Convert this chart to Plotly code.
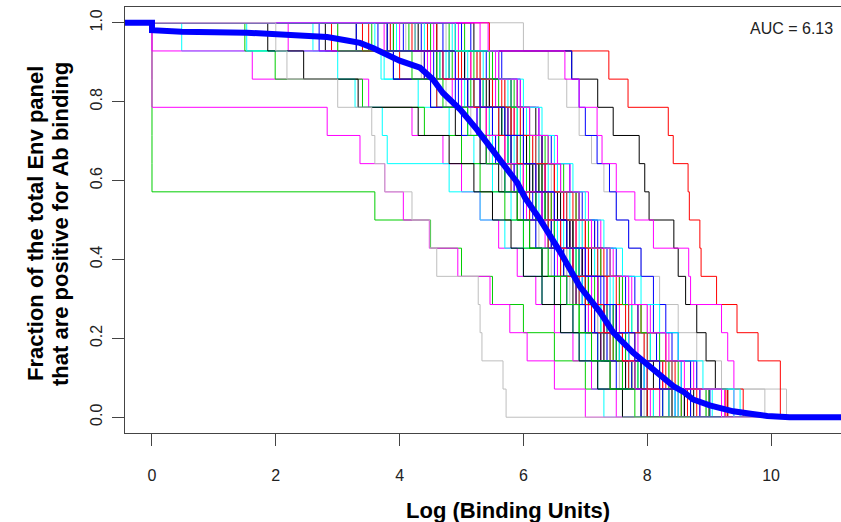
import plotly.graph_objects as go

# ---- data: per-subject binding thresholds (log binding units) for a 14-Env panel ----
N_ENV = 14

black_curves = [
    [5.20, 6.78, 7.20, 7.45, 7.87, 7.96, 8.03, 8.43, 8.50, 8.62, 8.80, 8.95, 9.10, 9.30],
    [3.30, 4.60, 5.10, 5.50, 5.80, 6.00, 6.20, 6.40, 6.60, 6.80, 7.00, 7.30, 7.60, 8.00],
    [2.80, 3.90, 4.50, 4.90, 5.30, 5.60, 5.90, 6.10, 6.30, 6.50, 6.80, 7.10, 7.40, 7.90],
    [4.30, 5.00, 5.40, 5.70, 6.00, 6.30, 6.50, 6.80, 7.00, 7.20, 7.50, 7.70, 8.10, 8.60],
    [3.80, 4.80, 5.20, 5.60, 5.90, 6.10, 6.40, 6.70, 6.90, 7.10, 7.30, 7.60, 7.90, 8.40],
    [1.87, 2.45, 3.33, 4.30, 4.80, 5.20, 5.50, 5.80, 6.00, 6.30, 6.60, 6.90, 7.20, 7.60],
]
red_curves = [
    [5.45, 7.38, 7.69, 8.34, 8.42, 8.66, 8.68, 8.85, 8.87, 9.12, 9.45, 9.79, 10.15, 10.15],
    [3.50, 4.40, 5.00, 5.40, 5.70, 6.00, 6.30, 6.60, 6.90, 7.20, 7.50, 7.80, 8.30, 9.00],
    [4.60, 5.30, 5.70, 6.00, 6.30, 6.50, 6.80, 7.00, 7.30, 7.60, 7.90, 8.30, 8.70, 9.30],
    [2.90, 4.00, 4.60, 5.00, 5.40, 5.80, 6.10, 6.40, 6.60, 6.90, 7.10, 7.40, 7.70, 8.00],
    [4.20, 5.00, 5.50, 5.80, 6.20, 6.50, 6.70, 7.00, 7.20, 7.50, 7.70, 8.00, 8.40, 8.80],
    [3.40, 4.70, 5.20, 5.60, 5.90, 6.20, 6.40, 6.60, 6.80, 7.00, 7.30, 7.60, 8.00, 9.27],
]
green_curves = [
    [0.00, 0.00, 0.00, 0.00, 0.00, 0.00, 3.60, 4.50, 5.00, 5.50, 6.00, 6.50, 7.00, 7.60],
    [1.50, 1.99, 3.40, 4.40, 5.00, 5.30, 5.70, 6.00, 6.30, 6.60, 6.90, 7.20, 7.60, 8.10],
    [4.50, 5.20, 5.60, 5.90, 6.10, 6.30, 6.50, 6.70, 6.90, 7.10, 7.30, 7.60, 7.90, 8.50],
    [3.90, 4.60, 5.00, 5.30, 5.60, 5.90, 6.20, 6.50, 6.80, 7.00, 7.30, 7.50, 7.80, 8.20],
    [4.80, 5.50, 5.80, 6.10, 6.40, 6.60, 6.90, 7.10, 7.40, 7.60, 7.90, 8.20, 8.50, 9.00],
    [3.00, 4.20, 4.70, 5.10, 5.40, 5.70, 5.90, 6.10, 6.40, 6.70, 6.90, 7.10, 7.40, 7.80],
]
blue_curves = [
    [5.00, 6.78, 6.90, 7.00, 7.19, 7.39, 7.50, 7.70, 7.90, 8.10, 8.30, 8.50, 8.80, 9.00],
    [4.06, 4.70, 5.10, 5.50, 5.80, 6.10, 6.30, 6.60, 6.80, 7.10, 7.40, 7.70, 8.00, 8.60],
    [3.30, 4.40, 4.90, 5.30, 5.60, 5.90, 6.20, 6.50, 6.80, 7.00, 7.30, 7.50, 7.90, 9.01],
    [4.70, 5.40, 5.80, 6.00, 6.30, 6.60, 6.90, 7.20, 7.50, 7.80, 8.10, 8.40, 8.70, 9.01],
    [2.70, 3.90, 4.50, 5.00, 5.40, 5.70, 6.00, 6.20, 6.50, 6.70, 7.00, 7.20, 7.50, 7.90],
    [3.80, 4.90, 5.30, 5.70, 6.00, 6.20, 6.50, 6.70, 7.00, 7.30, 7.50, 7.80, 8.20, 8.70],
]
cyan_curves = [
    [0.48, 3.70, 4.30, 4.80, 5.20, 5.50, 5.80, 6.00, 6.30, 6.50, 6.80, 7.00, 7.10, 7.30],
    [1.53, 3.75, 4.60, 5.10, 5.50, 5.80, 6.10, 6.40, 6.60, 6.90, 7.10, 7.40, 7.70, 8.10],
    [2.60, 3.00, 3.28, 3.72, 3.80, 4.80, 5.30, 5.70, 6.00, 6.30, 6.60, 6.90, 7.20, 7.60],
    [4.40, 5.10, 5.50, 5.90, 6.20, 6.40, 6.70, 6.90, 7.20, 7.40, 7.70, 8.00, 8.40, 9.50],
    [3.60, 4.80, 5.20, 5.60, 5.90, 6.20, 6.40, 6.60, 6.90, 7.10, 7.40, 7.70, 8.00, 8.50],
    [4.90, 5.60, 6.00, 6.30, 6.50, 6.80, 7.00, 7.30, 7.60, 7.90, 8.20, 8.50, 8.90, 9.40],
]
magenta_curves = [
    [0.00, 1.62, 3.50, 4.20, 4.70, 5.00, 5.30, 5.60, 5.90, 6.20, 6.50, 6.80, 7.10, 7.50],
    [0.00, 0.00, 0.00, 2.83, 3.36, 3.76, 4.06, 4.48, 4.94, 5.46, 5.78, 6.06, 6.50, 7.00],
    [5.30, 6.67, 6.90, 7.19, 7.27, 7.50, 7.80, 8.10, 8.67, 8.70, 9.20, 9.30, 9.40, 9.40],
    [4.00, 4.90, 5.30, 5.60, 5.90, 6.20, 6.50, 6.70, 7.00, 7.20, 7.40, 7.70, 8.00, 8.50],
    [2.20, 4.50, 5.00, 5.40, 5.70, 6.00, 6.30, 6.60, 6.80, 7.10, 7.30, 7.60, 7.80, 8.20],
    [5.43, 5.60, 5.90, 6.10, 6.40, 6.60, 6.90, 7.10, 7.40, 7.70, 8.00, 8.30, 8.60, 9.20],
]
gray_curves = [
    [6.00, 6.40, 6.70, 6.90, 7.10, 7.30, 7.50, 7.70, 7.90, 8.20, 8.50, 8.80, 9.20, 10.25],
    [4.10, 4.80, 5.20, 5.50, 5.80, 6.00, 6.30, 6.50, 6.70, 7.00, 7.20, 7.50, 7.90, 8.40],
    [3.40, 4.50, 5.00, 5.40, 5.70, 6.00, 6.20, 6.50, 6.70, 6.90, 7.20, 7.40, 7.70, 8.00],
    [4.50, 5.30, 5.70, 6.10, 6.40, 6.60, 6.90, 7.10, 7.40, 7.70, 8.00, 8.30, 8.80, 9.90],
    [3.00, 3.90, 4.60, 5.00, 5.40, 5.70, 5.90, 6.20, 6.40, 6.70, 7.00, 7.30, 7.60, 8.00],
    [4.75, 5.25, 5.55, 5.95, 6.15, 6.45, 6.65, 6.95, 7.15, 7.35, 7.65, 7.95, 8.35, 8.95],
    [3.85, 4.35, 4.75, 5.15, 5.45, 5.65, 5.95, 6.25, 6.45, 6.75, 7.05, 7.35, 7.55, 7.95],
    [2.00, 2.18, 3.00, 3.55, 3.60, 3.76, 4.20, 4.49, 4.60, 5.27, 5.30, 5.33, 5.67, 5.72],
]

# further subjects (drawn underneath the first ones)
black_extra = [
    [4.90, 5.60, 5.90, 6.20, 6.30, 6.50, 6.60, 6.80, 7.10, 7.20, 7.40, 7.60, 7.80, 8.70],
    [3.90, 4.40, 5.30, 5.80, 6.05, 6.25, 6.55, 6.75, 6.95, 7.05, 7.35, 7.55, 8.20, 8.75],
    [4.60, 5.05, 5.45, 5.65, 5.75, 6.15, 6.35, 6.45, 6.65, 6.85, 7.15, 7.25, 7.65, 8.35],
]
red_extra = [
    [4.25, 5.15, 5.35, 5.75, 6.05, 6.15, 6.45, 6.75, 6.95, 7.05, 7.35, 7.45, 7.75, 8.55],
    [3.85, 4.95, 5.45, 5.85, 6.25, 6.55, 6.85, 7.15, 7.25, 7.55, 7.85, 8.15, 8.45, 9.55],
    [4.45, 5.25, 5.65, 5.95, 6.15, 6.35, 6.65, 6.85, 7.05, 7.35, 7.65, 7.95, 8.25, 8.65],
]
green_extra = [
    [4.15, 4.85, 5.35, 5.65, 5.95, 6.25, 6.45, 6.55, 6.75, 7.15, 7.25, 7.45, 7.75, 8.25],
    [5.05, 5.45, 5.85, 6.05, 6.35, 6.65, 6.85, 7.05, 7.25, 7.55, 7.75, 8.05, 8.35, 8.95],
    [3.55, 4.65, 5.15, 5.45, 5.75, 6.05, 6.35, 6.55, 6.85, 7.05, 7.45, 7.65, 7.85, 8.55],
]
blue_extra = [
    [4.35, 5.05, 5.45, 5.75, 6.05, 6.35, 6.55, 6.75, 6.95, 7.25, 7.45, 7.65, 7.95, 8.45],
    [5.15, 5.65, 5.95, 6.25, 6.45, 6.75, 6.95, 7.15, 7.35, 7.65, 7.85, 8.15, 8.55, 8.85],
    [3.65, 4.55, 4.95, 5.25, 5.55, 5.85, 6.15, 6.45, 6.65, 6.95, 7.15, 7.35, 7.75, 8.25],
]
cyan_extra = [
    [4.25, 4.75, 5.35, 5.65, 5.85, 6.15, 6.35, 6.65, 6.85, 7.05, 7.25, 7.55, 7.85, 8.45],
    [4.85, 5.35, 5.75, 6.05, 6.25, 6.55, 6.75, 6.95, 7.15, 7.45, 7.75, 8.05, 8.55, 9.05],
    [3.95, 4.65, 5.05, 5.45, 5.75, 5.95, 6.25, 6.55, 6.75, 6.95, 7.35, 7.55, 7.95, 8.35],
]
magenta_extra = [
    [4.55, 5.15, 5.55, 5.85, 6.05, 6.35, 6.65, 6.85, 7.05, 7.35, 7.55, 7.85, 8.25, 8.85],
    [3.75, 4.45, 4.85, 5.25, 5.55, 5.85, 6.05, 6.35, 6.55, 6.85, 7.05, 7.25, 7.65, 8.05],
    [4.95, 5.55, 5.95, 6.25, 6.55, 6.75, 7.05, 7.25, 7.45, 7.75, 8.05, 8.35, 8.75, 9.25],
]

# mean curve (thick blue)
mean_x = [-0.5, 0.00, 0.00, 0.48, 1.53, 1.96, 2.44, 2.83, 3.15, 3.36, 3.57, 3.80, 4.00, 4.33,
          4.54, 4.70, 4.98, 5.25, 5.46, 5.67, 5.90, 6.03, 6.27, 6.59, 6.91, 7.24, 7.45, 7.77,
          8.09, 8.42, 8.60, 8.74, 9.01, 9.39, 9.70, 9.94, 10.30, 11.50]
mean_y = [1.000, 1.000, 0.981, 0.977, 0.975, 0.972, 0.970, 0.964, 0.955, 0.949, 0.936, 0.919,
          0.904, 0.886, 0.856, 0.822, 0.780, 0.729, 0.686, 0.645, 0.595, 0.555, 0.501, 0.420,
          0.332, 0.266, 0.215, 0.164, 0.121, 0.079, 0.063, 0.045, 0.030, 0.015, 0.008, 0.003,
          0.000, 0.000]

auc_label = "AUC = 6.13"
x_ticks = [0, 2, 4, 6, 8, 10]
y_ticks = [0.0, 0.2, 0.4, 0.6, 0.8, 1.0]
y_ticktext = ["0.0", "0.2", "0.4", "0.6", "0.8", "1.0"]

COLORS = {"black": "#000000", "red": "#FF0000", "green": "#00CD00", "blue": "#0000FF",
          "cyan": "#00FFFF", "magenta": "#FF00FF", "gray": "#BEBEBE"}

groups = (black_curves, red_curves, green_curves, blue_curves, cyan_curves, magenta_curves,
          gray_curves, black_extra, red_extra, green_extra, blue_extra, cyan_extra, magenta_extra)
all_t = [v for group in groups for c in group for v in c]
x_end = max(all_t)


def step_xy(thr):
    ts = sorted(thr)
    xs = [0.0] + ts + [x_end]
    ys = [1.0] + [(N_ENV - i - 1) / N_ENV for i in range(N_ENV)] + [0.0]
    return xs, ys


fig = go.Figure()


def add_curve(thr, col):
    xs, ys = step_xy(thr)
    fig.add_trace(go.Scatter(x=xs, y=ys, mode="lines",
                             line=dict(color=COLORS[col], width=1, shape="hv"),
                             hoverinfo="skip", showlegend=False))


# drawing order: most gray first, extra subjects, main subjects interleaved, leftmost gray last
for c in gray_curves[:-1]:
    add_curve(c, "gray")
for i in range(3):
    add_curve(black_extra[i], "black")
    add_curve(red_extra[i], "red")
    add_curve(green_extra[i], "green")
    add_curve(blue_extra[i], "blue")
    add_curve(cyan_extra[i], "cyan")
    add_curve(magenta_extra[i], "magenta")
for i in range(6):
    add_curve(black_curves[i], "black")
    add_curve(red_curves[i], "red")
    add_curve(green_curves[i], "green")
    add_curve(blue_curves[i], "blue")
    add_curve(cyan_curves[i], "cyan")
    add_curve(magenta_curves[i], "magenta")
add_curve(gray_curves[-1], "gray")

fig.add_trace(go.Scatter(x=mean_x, y=mean_y, mode="lines",
                         line=dict(color="#0000FF", width=6), hoverinfo="skip", showlegend=False))

L, T, B = 125, 7, 89
W, H = 841, 522
pw, ph = W - L, H - T - B


def px2paper_x(px):
    return (px - L) / pw


def py2paper_y(py):
    return (H - B - py) / ph


axis_col = "#444444"
tick_font = dict(family="Liberation Sans, Arial, sans-serif", size=16, color="#222222")
title_font = dict(family="Liberation Sans, Arial, sans-serif", size=22, color="#000000")

fig.update_layout(
    width=W, height=H,
    margin=dict(l=L, r=0, t=T, b=B),
    paper_bgcolor="white", plot_bgcolor="white",
    showlegend=False,
    xaxis=dict(range=[-0.436, 11.13], tickvals=x_ticks, ticks="outside", ticklen=12,
               tickcolor=axis_col, tickwidth=1, showline=True, linecolor=axis_col, linewidth=1,
               mirror=True, showgrid=False, zeroline=False, tickfont=tick_font,
               ticklabelstandoff=16),
    yaxis=dict(range=[-0.04, 1.04], tickvals=y_ticks, ticktext=y_ticktext, tickangle=-90,
               ticks="outside", ticklen=12, tickcolor=axis_col, tickwidth=1, showline=True,
               linecolor=axis_col, linewidth=1, mirror=False, showgrid=False, zeroline=False,
               tickfont=tick_font, ticklabelstandoff=4),
    annotations=[
        dict(text="<b>Log (Binding Units)</b>", xref="paper", yref="paper",
             x=px2paper_x(508), y=py2paper_y(510), xanchor="center", yanchor="middle",
             showarrow=False, font=title_font),
        dict(text="<b>Fraction of the total Env panel</b>", xref="paper", yref="paper",
             x=px2paper_x(35), y=py2paper_y(224), xanchor="center", yanchor="middle",
             textangle=-90, showarrow=False, font=title_font),
        dict(text="<b>that are positive for Ab binding</b>", xref="paper", yref="paper",
             x=px2paper_x(60), y=py2paper_y(224), xanchor="center", yanchor="middle",
             textangle=-90, showarrow=False, font=title_font),
        dict(text=auc_label, xref="paper", yref="paper",
             x=px2paper_x(835), y=py2paper_y(28), xanchor="right", yanchor="middle",
             showarrow=False, font=dict(family="Liberation Sans, Arial, sans-serif", size=16,
                                        color="#222222")),
    ],
)

fig.write_html("out.html", config={"displayModeBar": False},
               post_script="document.body.style.margin='0';document.body.style.padding='0';")
